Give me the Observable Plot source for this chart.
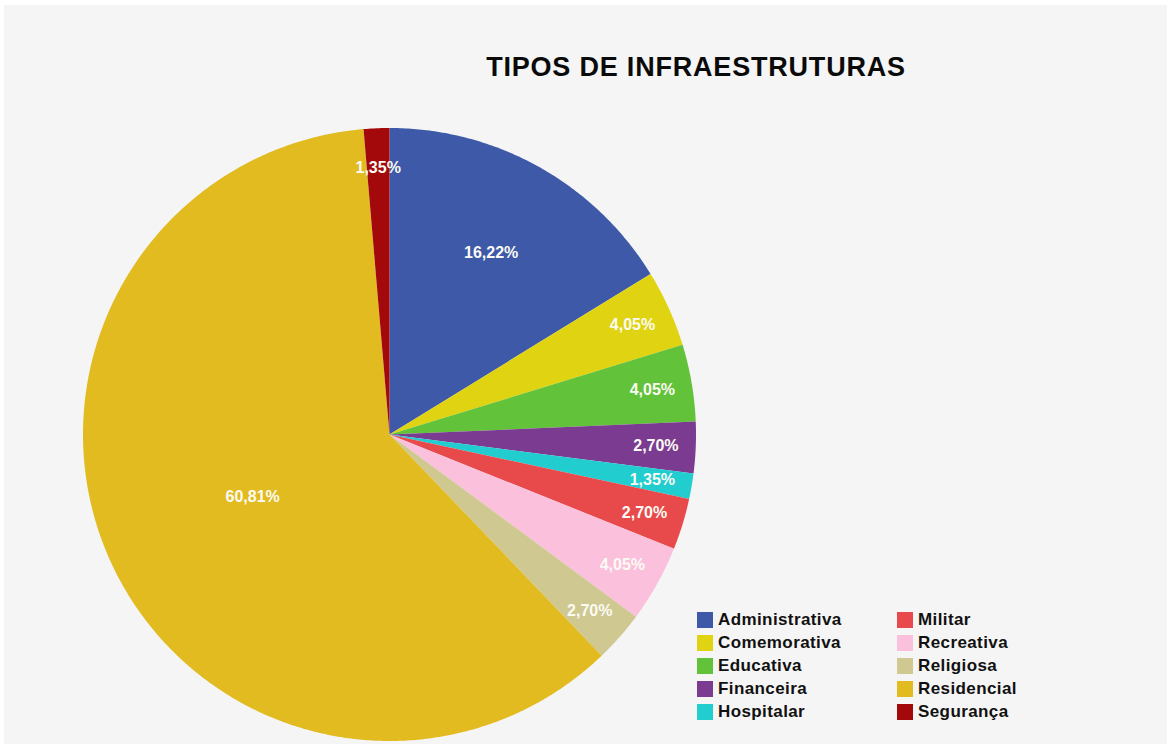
<!DOCTYPE html>
<html>
<head>
<meta charset="utf-8">
<script src="https://cdn.jsdelivr.net/npm/d3@7"></script>
<script src="https://cdn.jsdelivr.net/npm/@observablehq/plot@0.6"></script>
<style>
  html, body { margin: 0; padding: 0; background: #ffffff; width: 1167px; height: 744px; overflow: hidden;
    font-family: "Liberation Sans", Arial, sans-serif; }
  #panel { position: absolute; left: 4px; top: 5px; width: 1163px; height: 739px; background: #f5f5f5; }
  #chart { position: absolute; left: 0; top: 0; }
  #title { position: absolute; left: 696px; top: 54px; transform: translateX(-50%); white-space: nowrap;
    font-size: 27px; line-height: 27px; font-weight: bold; letter-spacing: 0.8px; color: #0a0a0a; }
  #legend { position: absolute; left: 697px; top: 608px; display: grid; grid-auto-flow: column;
    grid-template-rows: repeat(5, 23px); grid-template-columns: 200px 200px; }
  .item { display: flex; align-items: center; font-size: 17px; font-weight: bold; letter-spacing: 0.4px; color: #111; }
  .sw { width: 16px; height: 16px; margin-right: 5px; flex: none; }
</style>
</head>
<body>
<div id="panel"></div>
<div id="chart"></div>
<div id="title">TIPOS DE INFRAESTRUTURAS</div>
<div id="legend"></div>
<script>
// ---- data ----
const categories = ["Administrativa", "Comemorativa", "Educativa", "Financeira", "Hospitalar",
                    "Militar", "Recreativa", "Religiosa", "Residencial", "Segurança"];
const percents = [16.22, 4.05, 4.05, 2.70, 1.35, 2.70, 4.05, 2.70, 60.81, 1.35];
const colors = ["#3d59a8", "#e0d412", "#62c23a", "#7b3b91", "#22cdd0",
                "#e84a4c", "#fbc0dc", "#d0c891", "#e2bb20", "#a3080b"];

// ---- layout ----
const W = 1167, H = 744;
const cx = 389, cy = 434, R = 306.5;

const table = categories.map((c, i) => ({cat: c, value: percents[i]}));
const arcs = d3.pie().sort(null).value(d => d.value).startAngle(0).endAngle(2 * Math.PI)(table);
const total = d3.sum(percents);

// polygon rings in unit coordinates (v upward)
const rings = [];
for (const a of arcs) {
  rings.push({cat: a.data.cat, u: 0, v: 0});
  const steps = Math.max(2, Math.ceil((a.endAngle - a.startAngle) / (Math.PI / 360)));
  for (let k = 0; k <= steps; k++) {
    const t = a.startAngle + (a.endAngle - a.startAngle) * k / steps;
    rings.push({cat: a.data.cat, u: Math.sin(t), v: Math.cos(t)});
  }
  rings.push({cat: a.data.cat, u: 0, v: 0});
}

const labels = arcs.map(a => {
  const frac = a.data.value / total;
  const rr = frac > 0.5 ? 0.49 : frac > 0.1 ? 0.68 : 0.87;
  const m = (a.startAngle + a.endAngle) / 2;
  return {cat: a.data.cat, u: rr * Math.sin(m), v: rr * Math.cos(m),
          text: a.data.value.toFixed(2).replace(".", ",") + "%"};
});

const chart = Plot.plot({
  width: W, height: H, margin: 0,
  style: {background: "transparent"},
  x: {domain: [-cx / R, (W - cx) / R], axis: null},
  y: {domain: [(cy - H) / R, cy / R], axis: null},
  color: {domain: categories, range: colors},
  marks: [
    Plot.line(rings, {x: "u", y: "v", z: "cat", fill: "cat", stroke: "none"}),
    Plot.text(labels, {x: "u", y: "v", text: "text", fill: "#fbfbf4", fontSize: 16, fontWeight: "bold",
      fontFamily: "Liberation Sans, Arial, sans-serif", style: {letterSpacing: "0.3px"}})
  ]
});
document.getElementById("chart").appendChild(chart);

const leg = document.getElementById("legend");
categories.forEach((c, i) => {
  const it = document.createElement("div");
  it.className = "item";
  const sw = document.createElement("span");
  sw.className = "sw";
  sw.style.background = colors[i];
  it.appendChild(sw);
  it.appendChild(document.createTextNode(c));
  leg.appendChild(it);
});
</script>
</body>
</html>
